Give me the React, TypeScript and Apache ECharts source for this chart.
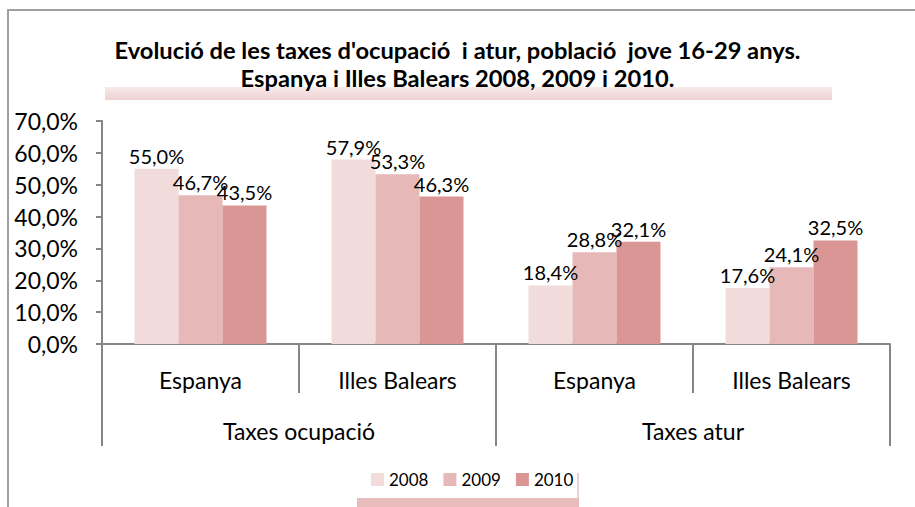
import React, { useEffect, useRef } from "react";
import * as echarts from "echarts";

const categories = ["Espanya", "Illes Balears", "Espanya", "Illes Balears"];
const groups = ["Taxes ocupació", "Taxes atur"];
const years = ["2008", "2009", "2010"];
const values2008 = [55.0, 57.9, 18.4, 17.6];
const values2009 = [46.7, 53.3, 28.8, 24.1];
const values2010 = [43.5, 46.3, 32.1, 32.5];
const yTicks = { min: 0, max: 70, interval: 10 };
const titleLines = [
  "Evolució de les taxes d'ocupació  i atur, població  jove 16-29 anys.",
  "Espanya i Illes Balears 2008, 2009 i 2010.",
];

const colors = ["#F2DCDB", "#E6B9B8", "#D99694"];
const FONT = "Lato";
const AXIS_COLOR = "#868686";

const fmt = (v: number) => v.toFixed(1).replace(".", ",") + "%";

export default function App() {
  const ref = useRef<HTMLDivElement>(null);
  useEffect(() => {
    if (!ref.current) return;
    const chart = echarts.init(ref.current, undefined, { renderer: "svg" });
    const seriesValues = [values2008, values2009, values2010];
    chart.setOption({
      animation: false,
      backgroundColor: "#ffffff",
      title: {
        text: titleLines.join("\n"),
        left: "center",
        top: 31,
        textStyle: {
          fontFamily: FONT,
          fontSize: 23.7,
          fontWeight: "bold",
          color: "#000",
          lineHeight: 28,
        },
      },
      legend: {
        data: years,
        left: 366,
        top: 466,
        itemWidth: 13,
        itemHeight: 13,
        itemGap: 15,
        icon: "rect",
        textStyle: { fontFamily: FONT, fontSize: 17, color: "#000" },
      },
      grid: { left: 102, right: 25, top: 121, bottom: 163, containLabel: false },
      xAxis: [
        {
          type: "category",
          data: categories,
          position: "bottom",
          axisLine: { show: true, lineStyle: { color: AXIS_COLOR, width: 2 } },
          axisTick: { show: true, length: 49, interval: 0, lineStyle: { color: AXIS_COLOR, width: 2 } },
          axisLabel: { interval: 0, margin: 24, fontFamily: FONT, fontSize: 23, color: "#000" },
        },
        {
          type: "category",
          data: groups,
          position: "bottom",
          offset: 0,
          axisLine: { show: false },
          axisTick: { show: true, length: 102, interval: 0, lineStyle: { color: AXIS_COLOR, width: 2 } },
          axisLabel: { interval: 0, margin: 75, fontFamily: FONT, fontSize: 23, color: "#000" },
        },
      ],
      yAxis: {
        type: "value",
        min: yTicks.min,
        max: yTicks.max,
        interval: yTicks.interval,
        axisLine: { show: true, lineStyle: { color: AXIS_COLOR, width: 2 } },
        axisTick: { show: true, length: 6, inside: false, lineStyle: { color: AXIS_COLOR, width: 2 } },
        splitLine: { show: false },
        axisLabel: {
          margin: 24,
          fontFamily: FONT,
          fontSize: 23,
          color: "#000",
          formatter: (v: number) => fmt(v),
        },
      },
      series: years.map((y, i) => ({
        name: y,
        type: "bar",
        xAxisIndex: 0,
        data: seriesValues[i],
        barGap: "0%",
        barCategoryGap: "33%",
        itemStyle: { color: colors[i] },
        label: {
          show: true,
          position: "top",
          distance: 3,
          fontFamily: FONT,
          fontSize: 20,
          color: "#000",
          formatter: (p: any) => fmt(p.value),
        },
      })),
      graphic: [
        {
          type: "rect",
          z: -1,
          shape: { x: 105, y: 87, width: 727, height: 13 },
          style: {
            fill: new echarts.graphic.LinearGradient(0, 0, 0, 1, [
              { offset: 0, color: "#f8eaea" },
              { offset: 1, color: "#efd2d2" },
            ]),
          },
        },
        {
          type: "rect",
          z: -1,
          shape: { x: 357, y: 498, width: 222, height: 12 },
          style: { fill: "#e9bcbc" },
        },
        {
          type: "rect",
          z: -1,
          shape: { x: 577, y: 473, width: 2, height: 25 },
          style: { fill: "#efcfcf" },
        },
        {
          type: "rect",
          z: 10,
          shape: { x: 8, y: 10, width: 1000, height: 600 },
          style: { fill: "none", stroke: "#a0a0a0", lineWidth: 2 },
        },
      ],
    });
    return () => chart.dispose();
  }, []);
  return (
    <div
      ref={ref}
      style={{ position: "fixed", left: 0, top: 0, width: 915, height: 507 }}
    />
  );
}
